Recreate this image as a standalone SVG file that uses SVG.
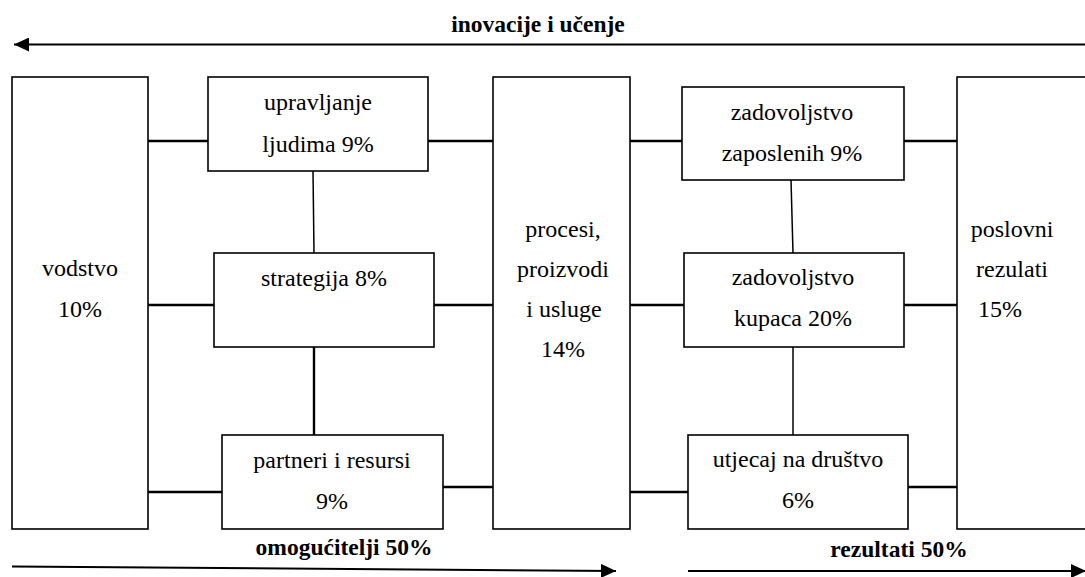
<svg xmlns="http://www.w3.org/2000/svg" width="1085" height="577" viewBox="0 0 1085 577">
<style>
.box{fill:#fff;stroke:#000;stroke-width:1.6}
.t{font-family:"Liberation Serif",Tinos,"Times New Roman",Times,"DejaVu Serif",serif;font-size:24px;fill:#000;text-anchor:middle}
.b{font-family:"Liberation Serif",Tinos,"Times New Roman",Times,"DejaVu Serif",serif;font-size:23.5px;font-weight:bold;fill:#000;text-anchor:middle}
.c{stroke:#000;stroke-width:2.4;fill:none}
.cn{stroke:#000;stroke-width:1.5;fill:none}
.ar{stroke:#000;stroke-width:2;fill:none}
</style>
<defs>
<marker id="ah" markerUnits="userSpaceOnUse" markerWidth="16" markerHeight="14" refX="15" refY="7" orient="auto">
<path d="M0,0 L15,7 L0,14 z" fill="#000"/>
</marker>
</defs>
<rect width="1085" height="577" fill="#fff"/>
<g id="labels">
<text class="b" x="538" y="32">inovacije i učenje</text>
<text class="b" x="344" y="555">omogućitelji 50%</text>
<text class="b" x="899" y="557">rezultati 50%</text>
</g>
<g id="connectors">
<line class="ar" x1="1085" y1="44.5" x2="14" y2="44.5" marker-end="url(#ah)"/>
<line class="ar" x1="12" y1="566.5" x2="616" y2="571" marker-end="url(#ah)"/>
<line class="ar" x1="688" y1="571" x2="1086" y2="571" marker-end="url(#ah)"/>
<line class="c" x1="148" y1="141" x2="208" y2="141"/>
<line class="c" x1="428" y1="141" x2="493" y2="141"/>
<line class="cn" x1="313" y1="171" x2="314" y2="253"/>
<line class="c" x1="148" y1="305" x2="214" y2="305"/>
<line class="c" x1="434" y1="305" x2="493" y2="305"/>
<line class="c" x1="314" y1="347" x2="314" y2="435"/>
<line class="c" x1="148" y1="492" x2="222" y2="492"/>
<line class="c" x1="443" y1="487" x2="493" y2="487"/>
<line class="c" x1="630" y1="141" x2="682" y2="141"/>
<line class="c" x1="904" y1="141" x2="957" y2="141"/>
<line class="cn" x1="791" y1="180" x2="793" y2="253"/>
<line class="c" x1="630" y1="305" x2="686" y2="305"/>
<line class="c" x1="904" y1="305" x2="957" y2="305"/>
<line class="cn" x1="793" y1="347" x2="793" y2="435"/>
<line class="c" x1="630" y1="492" x2="688" y2="492"/>
<line class="c" x1="908" y1="487" x2="957" y2="487"/>
</g>
<g id="vodstvo">
<rect class="box" x="12" y="77" width="136" height="452"/>
<text class="t" x="80" y="276">vodstvo</text>
<text class="t" x="80" y="317">10%</text>
</g>
<g id="upravljanje">
<rect class="box" x="208" y="77" width="220" height="94"/>
<text class="t" x="318" y="110">upravljanje</text>
<text class="t" x="318" y="152">ljudima 9%</text>
</g>
<g id="strategija">
<rect class="box" x="214" y="253" width="220" height="94"/>
<text class="t" x="324" y="286">strategija 8%</text>
</g>
<g id="partneri">
<rect class="box" x="222" y="435" width="221" height="94"/>
<text class="t" x="332" y="468">partneri i resursi</text>
<text class="t" x="332" y="509">9%</text>
</g>
<g id="procesi">
<rect class="box" x="493" y="77" width="137" height="452"/>
<text class="t" x="563" y="237">procesi,</text>
<text class="t" x="563" y="277">proizvodi</text>
<text class="t" x="564" y="317">i usluge</text>
<text class="t" x="563" y="357">14%</text>
</g>
<g id="zaposlenih">
<rect class="box" x="682" y="87" width="222" height="93"/>
<text class="t" x="792" y="120">zadovoljstvo</text>
<text class="t" x="792" y="161">zaposlenih 9%</text>
</g>
<g id="kupaca">
<rect class="box" x="684" y="253" width="220" height="94"/>
<text class="t" x="793" y="285">zadovoljstvo</text>
<text class="t" x="793" y="326">kupaca 20%</text>
</g>
<g id="utjecaj">
<rect class="box" x="688" y="435" width="220" height="94"/>
<text class="t" x="798" y="467">utjecaj na društvo</text>
<text class="t" x="798" y="508">6%</text>
</g>
<g id="poslovni">
<rect class="box" x="957" y="77" width="140" height="452"/>
<text class="t" x="1012" y="237">poslovni</text>
<text class="t" x="1012" y="277">rezulati</text>
<text class="t" x="1000" y="317">15%</text>
</g>
</svg>
